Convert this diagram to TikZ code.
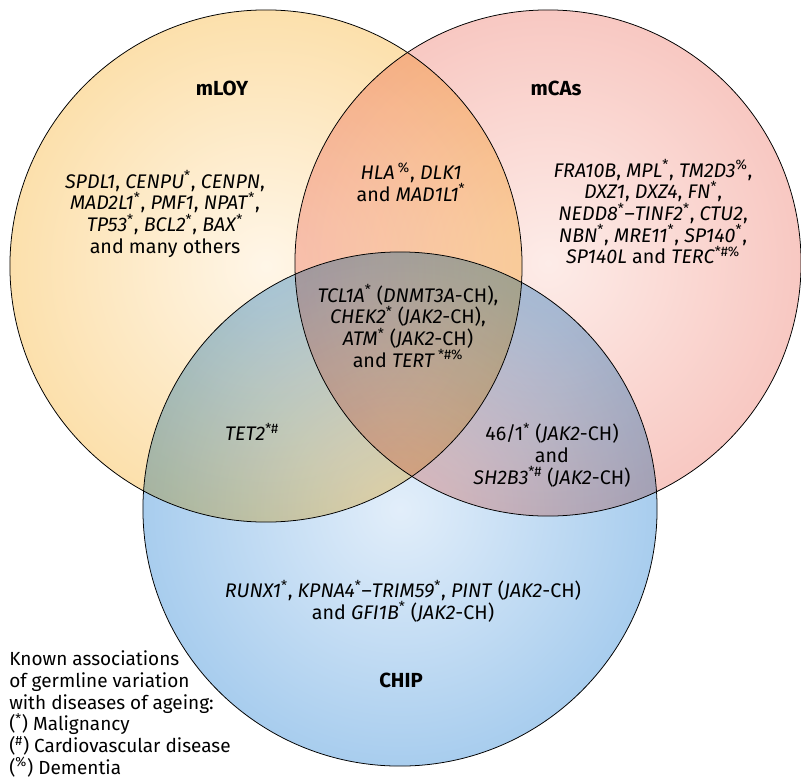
\documentclass[tikz,border=0pt]{standalone}
\usepackage{fontspec}
\setmainfont{Fira Sans}
\usepackage{tikz}
\definecolor{loyin}{RGB}{255,246,232}
\definecolor{loyout}{RGB}{252,224,172}
\definecolor{casin}{RGB}{253,236,232}
\definecolor{casout}{RGB}{248,200,194}
\definecolor{chipin}{RGB}{226,238,250}
\definecolor{chipout}{RGB}{168,205,238}
\tikzstyle{ring}=[draw=black, line width=0.55pt]
\tikzstyle{setname}=[inner sep=0pt, font=\fontsize{14.5}{17}\selectfont\bfseries]
\tikzstyle{genes}=[inner sep=0pt, align=center, font=\fontsize{14}{15.4}\selectfont]
\tikzstyle{key}=[inner sep=0pt, align=left, anchor=west, font=\fontsize{13.5}{15.4}\selectfont]
\newcommand{\gn}[1]{\textit{#1}}
\newcommand{\up}[1]{\textsuperscript{#1}}

\begin{document}
\begin{tikzpicture}[x=0.025cm,y=-0.025cm]
	\useasboundingbox (0,0) rectangle (801,782);
	%The three circles
	\coordinate (c-loy) at (266,266);
	\coordinate (c-cas) at (548,263);
	\coordinate (c-chip) at (400,509);
	\begin{scope}[blend group=multiply]
		\shade[inner color=loyin, outer color=loyout] (c-loy) circle[radius=6.4cm];
		\shade[inner color=casin, outer color=casout] (c-cas) circle[radius=6.325cm];
		\shade[inner color=chipin, outer color=chipout] (c-chip) circle[radius=6.425cm];
	\end{scope}
	\draw[ring] (c-loy) circle[radius=6.4cm];
	\draw[ring] (c-cas) circle[radius=6.325cm];
	\draw[ring] (c-chip) circle[radius=6.425cm];

	%The set names
	\draw (222,88) node[setname] (n-loy) {mLOY};
	\draw (556,88) node[setname] (n-cas) {mCAs};
	\draw (401,680) node[setname] (n-chip) {CHIP};

	%The gene lists
	\draw (165,214) node[genes] (g-loy) {\gn{SPDL1}, \gn{CENPU}\up{*}, \gn{CENPN},\\
		\gn{MAD2L1}\up{*}, \gn{PMF1}, \gn{NPAT}\up{*},\\
		\gn{TP53}\up{*}, \gn{BCL2}\up{*}, \gn{BAX}\up{*}\\
		and many others};
	\draw (411,182) node[genes] (g-loycas) {\gn{HLA}\,\up{\%}, \gn{DLK1}\\
		and \gn{MAD1L1}\up{*}};
	\draw (653,212) node[genes] (g-cas) {\gn{FRA10B}, \gn{MPL}\up{*}, \gn{TM2D3}\up{\%},\\
		\gn{DXZ1}, \gn{DXZ4}, \gn{FN}\up{*},\\
		\gn{NEDD8}\up{*}--\gn{TINF2}\up{*}, \gn{CTU2},\\
		\gn{NBN}\up{*}, \gn{MRE11}\up{*}, \gn{SP140}\up{*},\\
		\gn{SP140L} and \gn{TERC}\up{*\#\%}};
	\draw (408,326) node[genes] (g-all) {\gn{TCL1A}\up{*} (\gn{DNMT3A}-CH),\\
		\gn{CHEK2}\up{*} (\gn{JAK2}-CH),\\
		\gn{ATM}\up{*} (\gn{JAK2}-CH)\\
		and \gn{TERT}\,\up{*\#\%}};
	\draw (252,432) node[genes] (g-loychip) {\gn{TET2}\up{*\#}};
	\draw (552,455) node[genes] (g-caschip) {46/1\up{*} (\gn{JAK2}-CH)\\
		and\\
		\gn{SH2B3}\up{*\#} (\gn{JAK2}-CH)};
	\draw (403,601) node[genes] (g-chip) {\gn{RUNX1}\up{*}, \gn{KPNA4}\up{*}--\gn{TRIM59}\up{*}, \gn{PINT} (\gn{JAK2}-CH)\\
		and \gn{GFI1B}\up{*} (\gn{JAK2}-CH)};

	%The key
	\draw (9,714) node[key] (key) {Known associations\\
		of germline variation\\
		with diseases of ageing:\\
		(\up{*}) Malignancy\\
		(\up{\#}) Cardiovascular disease\\
		(\up{\%}) Dementia};
\end{tikzpicture}
\end{document}
